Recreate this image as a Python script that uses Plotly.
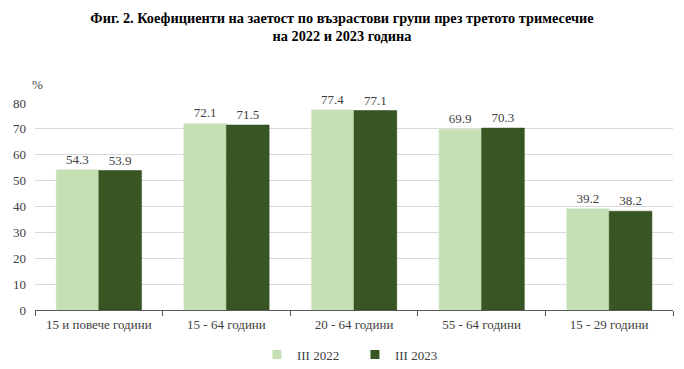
import plotly.graph_objects as go

categories = ["15 и повече години", "15 - 64 години", "20 - 64 години", "55 - 64 години", "15 - 29 години"]
values_2022 = [54.3, 72.1, 77.4, 69.9, 39.2]
values_2023 = [53.9, 71.5, 77.1, 70.3, 38.2]
series_names = ["III 2022", "III 2023"]
series_colors = ["#c5e0b4", "#375623"]
y_ticks = [0, 10, 20, 30, 40, 50, 60, 70, 80]

font_family = "Liberation Serif, Times New Roman, serif"
text_color = "#404040"

fig = go.Figure()
for name, vals, color, edge in zip(series_names, [values_2022, values_2023], series_colors, ["#e2efda", "#2f4a1d"]):
    fig.add_trace(go.Bar(
        x=categories, y=vals, name=name, showlegend=False,
        marker=dict(color=color, line=dict(color=edge, width=0.5)),
        text=[f"{v:.1f}" for v in vals], textposition="outside",
        textfont=dict(family=font_family, size=13, color=text_color),
        cliponaxis=False,
    ))
# legend entries with small square swatches
for name, color in zip(series_names, series_colors):
    fig.add_trace(go.Scatter(
        x=[None], y=[None], mode="markers", name=name,
        marker=dict(symbol="square", size=9, color=color),
        showlegend=True,
    ))

fig.update_layout(
    width=684, height=369,
    paper_bgcolor="white", plot_bgcolor="white",
    margin=dict(l=35, r=11, t=103, b=59, autoexpand=False),
    barmode="group", bargap=0.33, bargroupgap=0,
    font=dict(family=font_family, size=13, color=text_color),
    title=dict(
        text="<b>Фиг. 2. Коефициенти на заетост по възрастови групи през третото тримесечие<br>на 2022 и 2023 година</b>",
        x=0.5, xanchor="center", y=0.939, yanchor="middle",
        font=dict(family=font_family, size=14.3, color="#000000"),
    ),
    legend=dict(
        orientation="h", x=0.5015, xanchor="center", y=-0.215, yanchor="middle",
        font=dict(family=font_family, size=13, color=text_color),
        itemwidth=30, traceorder="normal", tracegroupgap=0,
        entrywidth=53, entrywidthmode="pixels",
    ),
    showlegend=True,
)
fig.update_xaxes(
    automargin=False,
    showline=True, linecolor="#595959", linewidth=1,
    ticks="outside", tickson="boundaries", ticklen=5, tickcolor="#595959",
    ticklabelstandoff=2,
    showgrid=False, tickfont=dict(family=font_family, size=13, color=text_color),
)
fig.update_yaxes(
    automargin=False,
    range=[0, 80], tickvals=y_ticks, showgrid=True, gridcolor="#d9d9d9", gridwidth=1,
    zeroline=False, showline=False, ticks="", ticklabelstandoff=8,
    tickfont=dict(family=font_family, size=13, color=text_color),
)
fig.add_annotation(
    text="%", xref="paper", yref="paper", x=0.0, y=1.0, xanchor="left", yanchor="bottom",
    xshift=-5, yshift=9, showarrow=False, font=dict(family=font_family, size=13, color=text_color),
)
fig.write_html("out.html", config={"displayModeBar": False},
               post_script="document.body.style.margin='0';")
